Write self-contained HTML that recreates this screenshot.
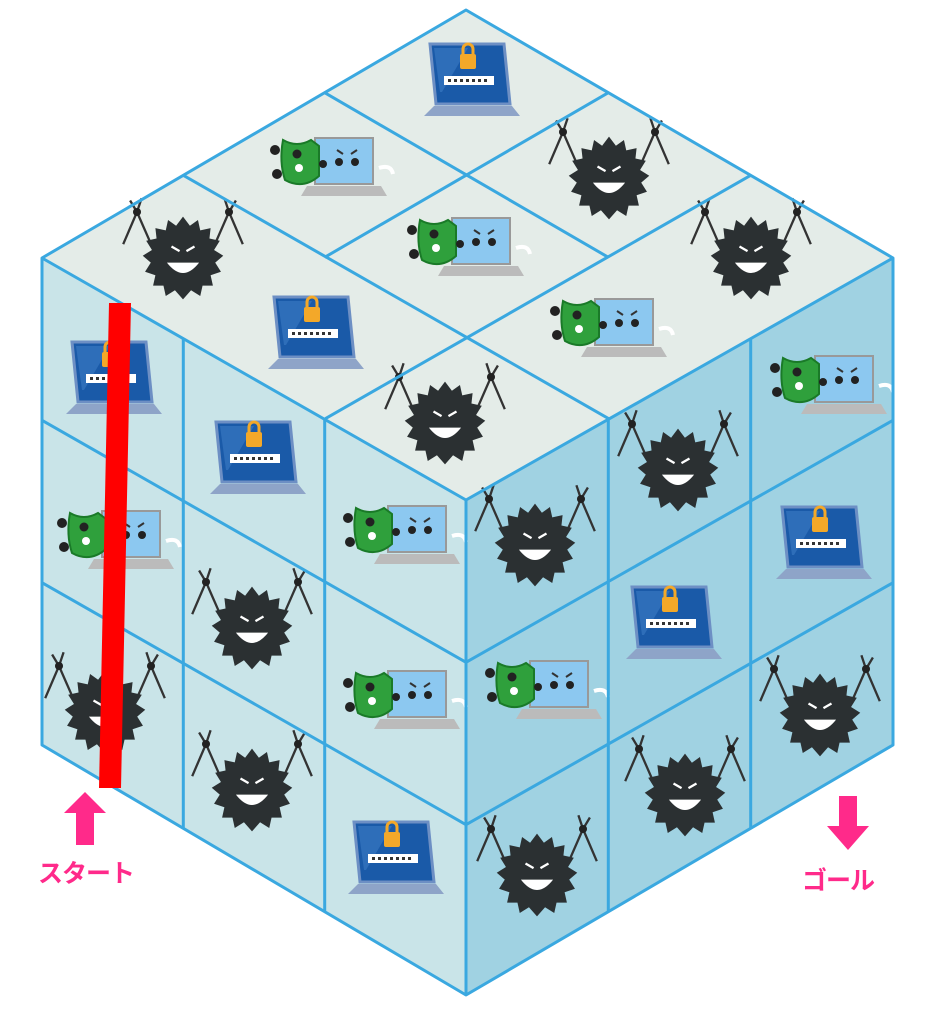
<!DOCTYPE html>
<html><head><meta charset="utf-8"><style>
html,body{margin:0;padding:0;background:#fff;}
svg{display:block;}
</style></head><body>
<svg width="931" height="1024" viewBox="0 0 931 1024" xmlns="http://www.w3.org/2000/svg">
<defs>
<g id="virus0">
  <g stroke="#333" stroke-width="2" fill="none">
    <line x1="-26" y1="-8" x2="-40" y2="-40"/><line x1="-40" y1="-40" x2="-52" y2="-12"/>
    <line x1="26" y1="-8" x2="40" y2="-40"/><line x1="40" y1="-40" x2="52" y2="-12"/>
    <path d="M-40 -40 L-36 -52 M-40 -40 L-46 -50 M40 -40 L36 -52 M40 -40 L46 -50"/>
  </g>
  <circle cx="-40" cy="-40" r="3.5" fill="#222"/><circle cx="40" cy="-40" r="3.5" fill="#222"/>
  <polygon fill="#2b3032" points="0,-36 6,-28 13,-33 15,-24 24,-26 23,-17 32,-15 27,-7 35,-2 28,4 33,12 24,15 26,24 17,24 15,33 7,28 0,36 -7,28 -15,33 -17,24 -26,24 -24,15 -33,12 -28,4 -35,-2 -27,-7 -32,-15 -23,-17 -24,-26 -15,-24 -13,-33 -6,-28"/>
  <path d="M-14 4 Q0 22 14 4 Z" fill="#fff"/>
  <path d="M-10 -10 L-3 -6 M10 -10 L3 -6" stroke="#fff" stroke-width="2"/>
</g>
<g id="virus"><use href="#virus0" transform="scale(1.15)"/></g>
<g id="laptop">
  <polygon points="-38,-38 36,-38 42,22 -32,22" fill="#1a5aa8" stroke="#6d8fc4" stroke-width="3"/>
  <polygon points="-34,-34 0,-34 -26,10 -28,10" fill="#3c7cc4" opacity=".6"/>
  <rect x="-8" y="-28" width="16" height="15" rx="2" fill="#f3a829"/>
  <path d="M-5 -28 V-33 A5 5 0 0 1 5 -33 V-28" stroke="#f3a829" stroke-width="3" fill="none"/>
  <rect x="-24" y="-6" width="50" height="9" fill="#fff"/>
  <path d="M-20 -1.5 H22" stroke="#333" stroke-width="3" stroke-dasharray="3 3"/>
  <polygon points="-34,24 44,24 52,34 -44,34" fill="#8ea4c8"/>
</g>
<g id="shield">
  <rect x="-10" y="-34" width="58" height="46" fill="#8cc8f0" stroke="#999" stroke-width="2"/>
  <polygon points="-18,14 56,14 62,24 -24,24" fill="#bbb"/>
  <circle cx="14" cy="-10" r="4" fill="#222"/><circle cx="30" cy="-10" r="4" fill="#222"/>
  <path d="M12 -22 L18 -18 M32 -22 L26 -18" stroke="#333" stroke-width="2"/>
  <path d="M54 -4 Q66 -8 68 2" stroke="#fff" stroke-width="4" fill="none"/>
  <path d="M-42 -32 Q-28 -24 -14 -32 L-6 -26 L-6 4 Q-22 18 -40 8 Q-46 -10 -42 -32 Z" fill="#2fa03c" stroke="#1a7a28" stroke-width="2"/>
  <circle cx="-50" cy="-22" r="5" fill="#222"/><circle cx="-48" cy="2" r="5" fill="#222"/>
  <circle cx="-28" cy="-18" r="4.5" fill="#222"/><circle cx="-2" cy="-8" r="4" fill="#222"/><circle cx="-26" cy="-4" r="4" fill="#fff"/>
</g>
</defs>
<polygon points="466,10 893,258 466,500 42,258" fill="#e4ece8"/>
<polygon points="42,258 466,500 466,995 42,745" fill="#c9e4e8"/>
<polygon points="466,500 893,258 893,745 466,995" fill="#a0d2e2"/>
<use href="#laptop" x="468" y="82"/>
<use href="#virus" x="609" y="178"/>
<use href="#shield" x="325" y="172"/>
<use href="#virus" x="751" y="258"/>
<use href="#shield" x="462" y="252"/>
<use href="#virus" x="183" y="258"/>
<use href="#shield" x="605" y="333"/>
<use href="#laptop" x="312" y="335"/>
<use href="#virus" x="445" y="423"/>
<use href="#laptop" x="110" y="380"/>
<use href="#shield" x="112" y="545"/>
<use href="#virus" x="105" y="712"/>
<use href="#laptop" x="254" y="460"/>
<use href="#virus" x="252" y="628"/>
<use href="#virus" x="252" y="790"/>
<use href="#shield" x="398" y="540"/>
<use href="#shield" x="398" y="705"/>
<use href="#laptop" x="392" y="860"/>
<use href="#virus" x="535" y="545"/>
<use href="#shield" x="540" y="695"/>
<use href="#virus" x="537" y="875"/>
<use href="#virus" x="678" y="470"/>
<use href="#laptop" x="670" y="625"/>
<use href="#virus" x="685" y="795"/>
<use href="#shield" x="825" y="390"/>
<use href="#laptop" x="820" y="545"/>
<use href="#virus" x="820" y="715"/>
<g stroke="#3aa8e0" stroke-width="3" fill="none" stroke-linejoin="round">
  <polygon points="466,10 893,258 893,745 466,995 42,745 42,258"/>
  <polyline points="42,258 466,500 893,258"/>
  <line x1="466" y1="500" x2="466" y2="995"/>
  <line x1="608.3" y1="92.7" x2="324.7" y2="257.3"/>
  <line x1="750.7" y1="175.3" x2="325.3" y2="418.7"/>
  <line x1="324.7" y1="92.7" x2="608.3" y2="257.3"/>
  <line x1="183.3" y1="175.3" x2="608.7" y2="418.7"/>
  <line x1="183.3" y1="338.7" x2="183.3" y2="828.3"/>
  <line x1="324.7" y1="419.3" x2="324.7" y2="911.7"/>
  <line x1="42" y1="420.3" x2="466" y2="662.3"/>
  <line x1="42" y1="582.7" x2="466" y2="824.7"/>
  <line x1="608.3" y1="419.3" x2="608.3" y2="911.7"/>
  <line x1="750.7" y1="338.7" x2="750.7" y2="828.3"/>
  <line x1="466" y1="662.3" x2="893" y2="420.3"/>
  <line x1="466" y1="824.7" x2="893" y2="582.7"/>
</g>
<polygon points="109,303 131,303 121,788 99,788" fill="#ff0000"/>
<polygon points="85,792 106,813 94,813 94,845 76,845 76,813 64,813" fill="#ff2a8a"/>
<polygon points="848,850 869,826 857,826 857,796 839,796 839,826 827,826" fill="#ff2a8a"/>
<text x="86" y="882" text-anchor="middle" font-family="'Liberation Sans','Noto Sans CJK JP',sans-serif" font-weight="bold" font-size="25" letter-spacing="-1" fill="#ff2a8a">スタート</text>
<text x="838" y="889" text-anchor="middle" font-family="'Liberation Sans','Noto Sans CJK JP',sans-serif" font-weight="bold" font-size="25" letter-spacing="-1" fill="#ff2a8a">ゴール</text>
</svg>
</body></html>
